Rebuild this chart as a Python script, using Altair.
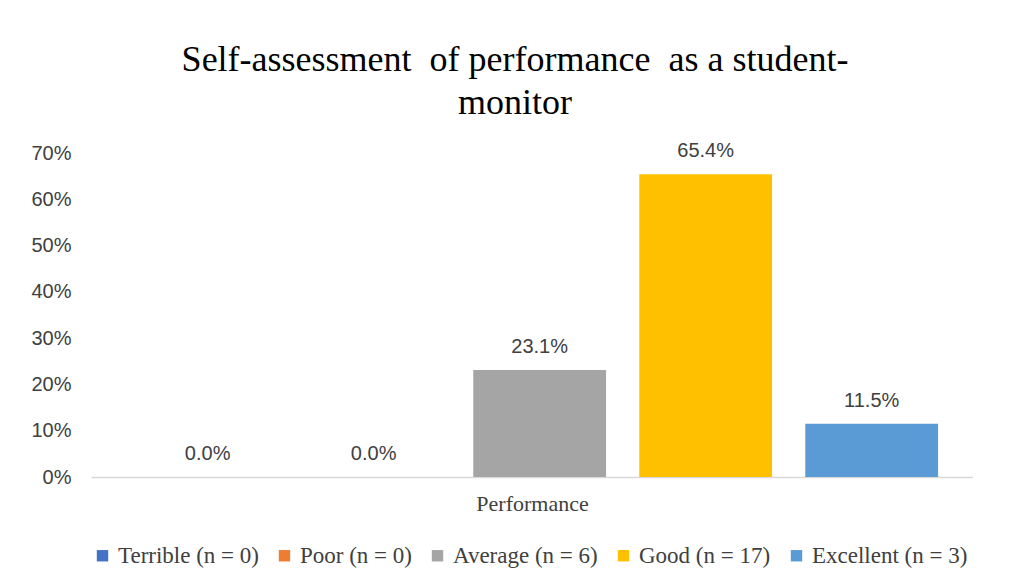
import altair as alt
import pandas as pd

categories = ["Terrible (n = 0)", "Poor (n = 0)", "Average (n = 6)", "Good (n = 17)", "Excellent (n = 3)"]
values = [0.0, 0.0, 0.231, 0.654, 0.115]
colors = ["#4472C4", "#ED7D31", "#A5A5A5", "#FFC000", "#5B9BD5"]
group = "Performance"

df = pd.DataFrame({"group": [group] * len(categories), "category": categories, "value": values})

x = alt.X("group:N", scale=alt.Scale(paddingInner=0, paddingOuter=0),
          axis=alt.Axis(labels=False, ticks=False, domainColor="#d9d9d9", domainWidth=1.5,
                        title="Performance", titleFont="Liberation Serif", titleFontSize=22,
                        titleFontWeight="normal", titleColor="#404040", titlePadding=16))
xoff = alt.XOffset("category:N", sort=categories,
                   scale=alt.Scale(paddingInner=0.2, paddingOuter=0.2566, align=0.59))

bars = alt.Chart(df).mark_bar().encode(
    x=x,
    xOffset=xoff,
    y=alt.Y("value:Q", title=None, scale=alt.Scale(domain=[0, 0.7], nice=False),
            axis=alt.Axis(format=".0%", values=[0, 0.1, 0.2, 0.3, 0.4, 0.5, 0.6, 0.7],
                          grid=False, domain=False, ticks=False, labelPadding=20,
                          labelFont="Liberation Sans", labelFontSize=20, labelColor="#404040")),
    color=alt.Color("category:N", sort=categories,
                    scale=alt.Scale(domain=categories, range=colors),
                    legend=alt.Legend(title=None, orient="bottom", direction="horizontal",
                                      symbolType="square", symbolSize=130, symbolStrokeWidth=0,
                                      labelFont="Liberation Serif", labelFontSize=23,
                                      labelColor="#404040", columnPadding=14, offset=30,
                                      labelLimit=300)),
)

labels = alt.Chart(df).mark_text(baseline="bottom", dy=-13, font="Liberation Sans",
                                 fontSize=20, color="#404040").encode(
    x=x,
    xOffset=xoff,
    y=alt.Y("value:Q"),
    text=alt.Text("value:Q", format=".1%"),
)

chart = alt.layer(bars, labels).properties(
    width=882, height=324,
    padding={"left": 22, "top": 34, "right": 0, "bottom": 0},
    title=alt.Title(["Self-assessment\u00a0 of performance\u00a0 as a student-", "monitor"],
                    font="Liberation Serif", fontSize=36, fontWeight="normal", color="#000000",
                    anchor="middle", dx=-17, offset=19, lineHeight=43),
).configure(background="white").configure_view(stroke=None)

chart.save("out.html", embed_options={"renderer": "svg", "actions": False})
